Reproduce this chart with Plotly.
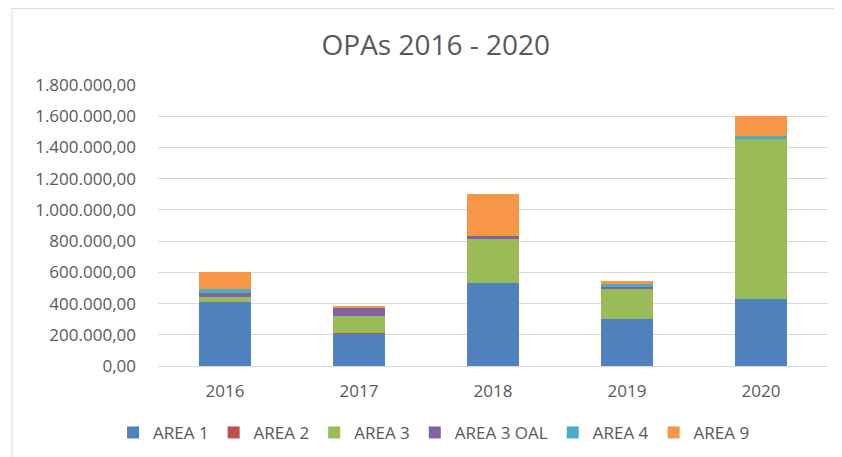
import plotly.graph_objects as go

years = ["2016", "2017", "2018", "2019", "2020"]
series_names = ["AREA 1", "AREA 2", "AREA 3", "AREA 3 OAL", "AREA 4", "AREA 9"]
area1 = [410000, 208000, 531000, 302000, 429000]
area2 = [3000, 2000, 0, 0, 0]
area3 = [26000, 113000, 283000, 195000, 1028000]
area3_oal = [28000, 49000, 18000, 6000, 0]
area4 = [26000, 0, 0, 24000, 17000]
area9 = [112000, 7000, 268000, 17000, 125000]
colors = ["#4F81BD", "#C0504D", "#9BBB59", "#8064A2", "#4BACC6", "#F79646"]

values = [area1, area2, area3, area3_oal, area4, area9]

fig = go.Figure()
for name, vals, col in zip(series_names, values, colors):
    fig.add_trace(go.Bar(x=years, y=vals, name=name, marker=dict(color=col, line=dict(width=0))))

font_family = "Open Sans, Noto Sans, sans-serif"
fig.update_layout(
    barmode="stack",
    bargap=0.605,
    width=834, height=449,
    margin=dict(l=150, r=14, t=77, b=91, autoexpand=False),
    paper_bgcolor="white", plot_bgcolor="white",
    separators=",.",
    title=dict(text="OPAs 2016 - 2020", x=0.513, xanchor="center", y=0.9176, yanchor="middle",
               font=dict(family=font_family, size=28, color="#595959")),
    font=dict(family=font_family, color="#595959", size=17),
    legend=dict(orientation="h", x=0.412, xanchor="center", y=-0.238, yanchor="middle",
                font=dict(size=17, color="#595959"), traceorder="normal",
                itemwidth=30, tracegroupgap=0),
    xaxis=dict(showgrid=False, showline=True, linecolor="#D9D9D9", linewidth=1, automargin=False,
               tickfont=dict(size=17, color="#595959"), ticks="", ticklabelstandoff=10),
    yaxis=dict(range=[0, 1800000], dtick=200000, tickformat=",.2f", showgrid=True, automargin=False,
               gridcolor="#D9D9D9", gridwidth=1, zeroline=False,
               tickfont=dict(size=17, color="#595959"), ticks="", ticklabelstandoff=21),
    shapes=[dict(type="rect", xref="paper", yref="paper", x0=-0.2179, x1=1.05, y0=-0.4, y1=1.272,
                 line=dict(color="#D9D9D9", width=1), fillcolor="rgba(0,0,0,0)", layer="below")],
)

fig.write_html("out.html")
